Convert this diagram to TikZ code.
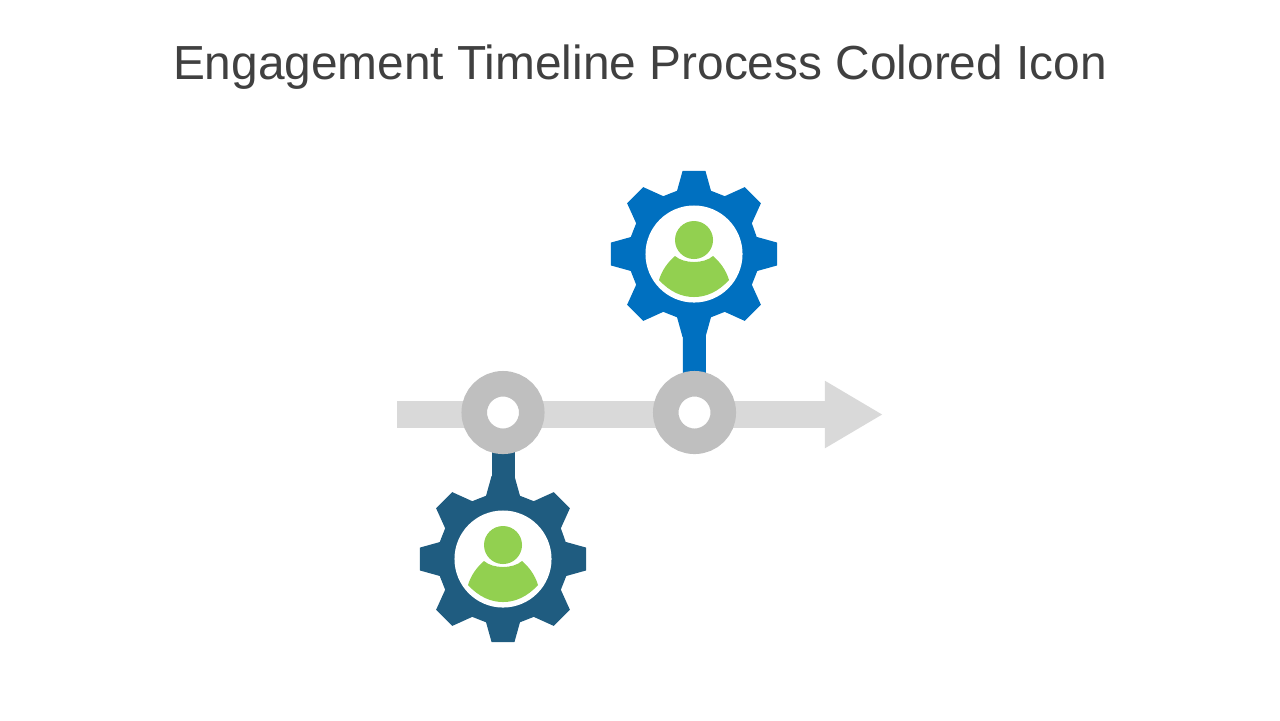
\documentclass[tikz,border=0pt]{standalone}
\usepackage{fontspec}
\setmainfont{Liberation Sans}
\usepackage{xcolor}
\usetikzlibrary{arrows.meta, backgrounds}
\definecolor{titlegray}{HTML}{404040}
\definecolor{linegray}{HTML}{D9D9D9}
\definecolor{ringgray}{HTML}{BFBFBF}
\definecolor{gearblue}{HTML}{0070C0}
\definecolor{geardark}{HTML}{1F5C80}
\definecolor{persongreen}{HTML}{92D050}
\tikzstyle{ring} = [circle, draw=ringgray, fill=white, line width=0.255cm,
    minimum size=0.575cm, inner sep=0, outer sep=0]
\tikzstyle{hole} = [circle, fill=white, minimum size=0.97cm, inner sep=0, outer sep=0]
\tikzstyle{head} = [circle, fill=persongreen, minimum size=0.38cm, inner sep=0, outer sep=0]
\tikzstyle{stem} = [line width=0.23cm]
\tikzstyle{timeline} = [draw=linegray, line width=0.27cm,
    -{Triangle[length=0.58cm, width=0.63cm]}]

\begin{document}
\begin{tikzpicture}[x=0.01cm, y=-0.01cm]
      \useasboundingbox (0,0) rectangle (1280,720);
      \node [text=titlegray, font=\fontsize{13.6}{16}\selectfont] (title) at (640,67) {Engagement Timeline Process Colored Icon};

      % Place nodes
      \node [ring] (ringlow) at (503,412.5) {};
      \node [ring] (ringhigh) at (694.5,412.5) {};
      \node [hole] (holelow) at (503,559) {};
      \node [hole] (holehigh) at (694,254) {};
      \coordinate (linestart) at (397,414.5);
      \coordinate (lineend) at (883,414.5);

      % Gears with their people
      \foreach \gearname/\gearcolor in {low/geardark, high/gearblue} {
        \begin{scope}[shift={(hole\gearname.center)}]
          \node [head] (head\gearname) at (0,-14) {};
          \fill [persongreen] (-19,2) .. controls (-10,10) and (10,10) .. (19,2)
            .. controls (26,8) and (32,16) .. (35,26)
            .. controls (24,38) and (12,43) .. (0,43)
            .. controls (-12,43) and (-24,38) .. (-35,26)
            .. controls (-32,16) and (-26,8) .. (-19,2) -- cycle;
          \begin{pgfonlayer}{background}
            \fill [\gearcolor] (-15:65) \foreach \a/\w in {0/15,45/17,90/15,135/17,180/15,225/17,270/15,315/17} {
              -- (\a-\w:65.5) -- (\a-7.8:84) -- (\a+7.8:84) -- (\a+\w:65.5)
            } -- cycle;
          \end{pgfonlayer}
        \end{scope}
      }

      % Connectors
      \begin{pgfonlayer}{background}
        \path [timeline] (linestart) -- (lineend);
        \draw [stem, geardark] (ringlow) -- (holelow);
        \draw [stem, gearblue] (ringhigh) -- (holehigh);
      \end{pgfonlayer}
    \end{tikzpicture}
\end{document}
